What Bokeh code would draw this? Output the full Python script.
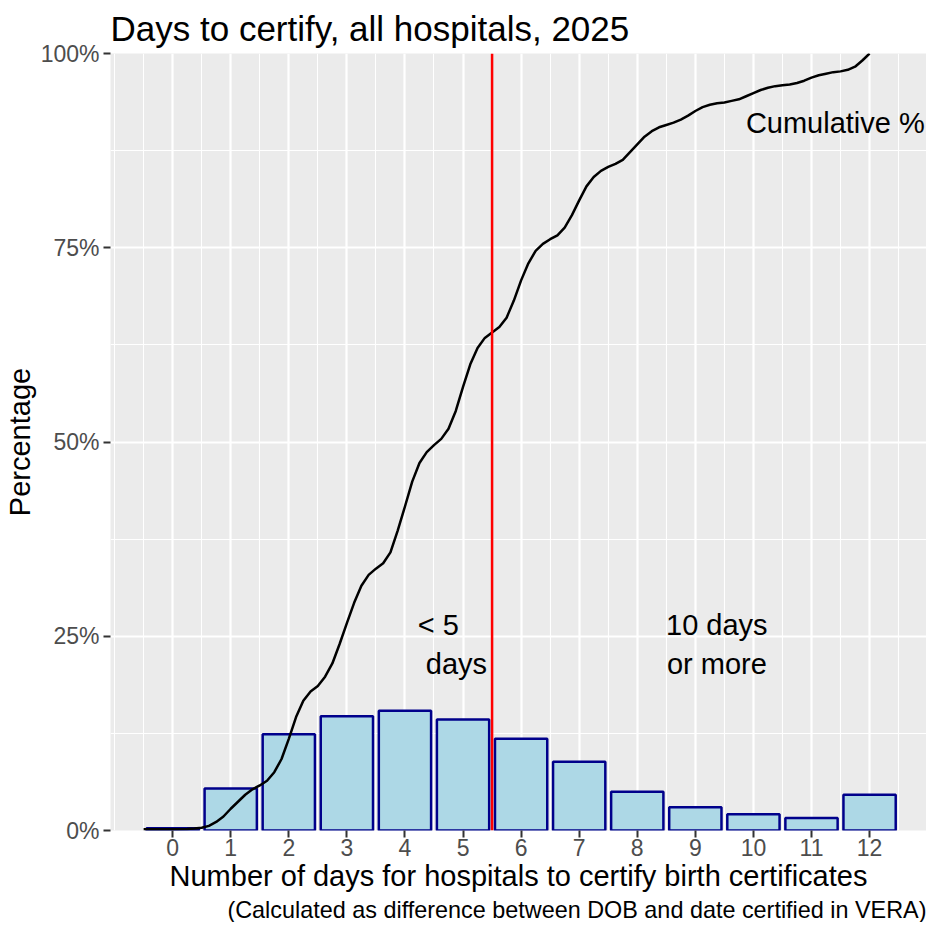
from bokeh.plotting import figure
from bokeh.models import FixedTicker, Range1d, Span, Title, ColumnDataSource
from bokeh.core.properties import value
from bokeh.embed import file_html
from bokeh.resources import INLINE

# ---- data ----
days = [0, 1, 2, 3, 4, 5, 6, 7, 8, 9, 10, 11, 12]
pct = [0.3, 5.4, 12.4, 14.7, 15.4, 14.3, 11.8, 8.85, 5.0, 3.0, 2.1, 1.6, 4.6]

# cumulative % curve, every 1/8 day
cum_x = [-0.5, -0.25, 0.0, 0.25, 0.375, 0.5, 0.625, 0.75, 0.875,
         1.0, 1.125, 1.25, 1.375, 1.5, 1.625, 1.75, 1.875,
         2.0, 2.125, 2.25, 2.375, 2.5, 2.625, 2.75, 2.875,
         3.0, 3.125, 3.25, 3.375, 3.5, 3.625, 3.75, 3.875,
         4.0, 4.125, 4.25, 4.375, 4.5, 4.625, 4.75, 4.875,
         5.0, 5.125, 5.25, 5.375, 5.5, 5.625, 5.75, 5.875,
         6.0, 6.125, 6.25, 6.375, 6.5, 6.625, 6.75, 6.875,
         7.0, 7.125, 7.25, 7.375, 7.5, 7.625, 7.75, 7.875,
         8.0, 8.125, 8.25, 8.375, 8.5, 8.625, 8.75, 8.875,
         9.0, 9.125, 9.25, 9.375, 9.5, 9.625, 9.75, 9.875,
         10.0, 10.125, 10.25, 10.375, 10.5, 10.625, 10.75, 10.875,
         11.0, 11.125, 11.25, 11.375, 11.5, 11.625, 11.75, 11.875, 12.0]
cum_y = [0.15, 0.15, 0.15, 0.2, 0.25, 0.35, 0.6, 1.1, 1.8,
         2.8, 3.7, 4.6, 5.3, 5.8, 6.4, 7.5, 9.2,
         11.8, 14.6, 16.7, 17.9, 18.6, 19.8, 21.5, 24.0,
         26.7, 29.3, 31.5, 32.9, 33.7, 34.4, 35.8, 38.6,
         41.7, 44.9, 47.3, 48.7, 49.6, 50.4, 51.7, 54.0,
         57.1, 60.0, 62.1, 63.4, 64.1, 64.8, 66.0, 68.2,
         70.8, 73.0, 74.6, 75.5, 76.1, 76.6, 77.6, 79.2,
         81.1, 82.9, 84.1, 84.9, 85.4, 85.8, 86.3, 87.3,
         88.3, 89.3, 90.0, 90.5, 90.8, 91.1, 91.5, 92.0,
         92.6, 93.1, 93.4, 93.6, 93.7, 93.9, 94.1, 94.5,
         94.9, 95.3, 95.6, 95.8, 95.9, 96.0, 96.2, 96.5,
         96.9, 97.2, 97.4, 97.6, 97.7, 97.9, 98.3, 99.1, 100.0]

x_tick_labels = [str(d) for d in days]
x_minor = [-1, -0.5, 0.5, 1.5, 2.5, 3.5, 4.5, 5.5, 6.5, 7.5, 8.5, 9.5, 10.5, 11.5, 12.5, 13]
y_ticks = [0, 25, 50, 75, 100]
y_tick_labels = ["0%", "25%", "50%", "75%", "100%"]
y_minor = [12.5, 37.5, 62.5, 87.5]
cutoff_day = 5.5

note_left_x = [4.22, 4.36]
note_left_y = [26.5, 21.4]
note_left_text = ["< 5", "days"]
note_right_x = [9.37, 9.37]
note_right_y = [26.5, 21.4]
note_right_text = ["10 days", "or more"]
cum_label_x = [9.87]
cum_label_y = [91.0]
cum_label_text = ["Cumulative %"]

title_text = "Days to certify, all hospitals, 2025"
x_title = "Number of days for hospitals to certify birth certificates"
y_title = "Percentage"
caption = "(Calculated as difference between DOB and date certified in VERA)"

FONT = "Liberation Sans"

p = figure(frame_width=816, height=922,
           x_range=Range1d(-1.07, 12.98), y_range=Range1d(0, 100),
           output_backend="svg", toolbar_location=None,
           min_border_left=0, min_border_right=0,
           min_border_top=47, min_border_bottom=0)

p.background_fill_color = "#EBEBEB"
p.border_fill_color = "white"
p.outline_line_color = None

p.title.text = title_text
p.title.text_font = FONT
p.title.text_font_size = "35px"
p.title.text_font_style = "normal"
p.title.text_color = "black"
p.title.align = "left"
p.title.standoff = 12

xt = FixedTicker(ticks=days, minor_ticks=x_minor)
yt = FixedTicker(ticks=y_ticks, minor_ticks=y_minor)

for ax, tk in ((p.xaxis[0], xt), (p.yaxis[0], yt)):
    ax.ticker = tk
    ax.axis_line_color = None
    ax.major_tick_line_color = "#333333"
    ax.major_tick_line_width = 2
    ax.major_tick_out = 7
    ax.major_tick_in = 0
    ax.minor_tick_out = 0
    ax.minor_tick_in = 0
    ax.major_label_text_font = FONT
    ax.major_label_text_font_size = "23px"
    ax.major_label_text_color = "#4D4D4D"
    ax.axis_label_text_font = FONT
    ax.axis_label_text_font_size = "29px"
    ax.axis_label_text_font_style = "normal"
    ax.axis_label_text_color = "black"

p.xaxis[0].axis_label = x_title
p.xaxis[0].major_label_overrides = {d: l for d, l in zip(days, x_tick_labels)}
p.xaxis[0].major_label_standoff = 1
p.xaxis[0].axis_label_standoff = 1
p.yaxis[0].axis_label = y_title
p.yaxis[0].major_label_overrides = {t: l for t, l in zip(y_ticks, y_tick_labels)}
p.yaxis[0].major_label_standoff = 4
p.yaxis[0].axis_label_standoff = 2

for g, tk in ((p.xgrid[0], xt), (p.ygrid[0], yt)):
    g.ticker = tk
    g.grid_line_color = "white"
    g.grid_line_width = 2.2
    g.minor_grid_line_color = "white"
    g.minor_grid_line_width = 1.1

src = ColumnDataSource(dict(day=days, pct=pct))
p.vbar(x="day", top="pct", width=0.9, bottom=0, source=src,
       fill_color="#ADD8E6", line_color="#00008B", line_width=2.5)

p.add_layout(Span(location=cutoff_day, dimension="height",
                  line_color="red", line_width=2.5))

p.line(cum_x, cum_y, line_color="black", line_width=2.5, line_join="round")

p.text(note_left_x, note_left_y, text=note_left_text, text_font=value(FONT),
       text_font_size="29px", text_align="left", text_baseline="middle", text_color="black")
p.text(note_right_x, note_right_y, text=note_right_text, text_font=value(FONT),
       text_font_size="29px", text_align="center", text_baseline="middle", text_color="black")
p.text(cum_label_x, cum_label_y, text=cum_label_text, text_font=value(FONT),
       text_font_size="29px", text_align="left", text_baseline="middle", text_color="black")

cap = Title(text=caption, align="right", text_font=FONT, text_font_size="23.4px",
            text_font_style="normal", text_color="black", standoff=0)
p.add_layout(cap, "below")

open("out.html", "w").write(file_html(p, INLINE))
